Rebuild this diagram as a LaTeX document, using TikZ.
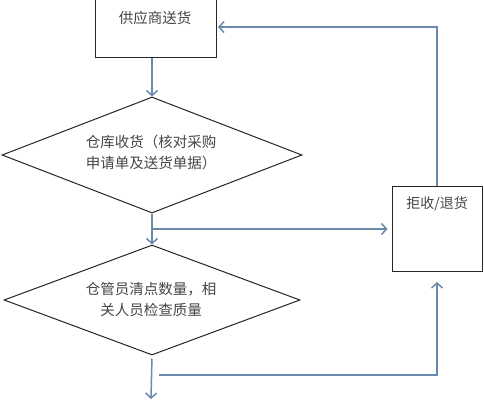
\documentclass[tikz,border=0pt]{standalone}
\usepackage{fontspec}
\newfontfamily\cjk{Noto Sans CJK SC}
\usetikzlibrary{shapes.geometric,positioning,arrows.meta}
\definecolor{flowline}{RGB}{105,138,170}
\definecolor{textgray}{RGB}{70,70,70}
\tikzset{
  box/.style={draw=black!85, line width=1pt, rectangle, inner sep=0pt},
  decision/.style={draw=black!85, line width=1pt, diamond, inner sep=0pt},
  flow/.style={draw=flowline, line width=1.5pt, -{Straight Barb[length=5pt,width=11pt]}},
  txt/.style={font=\cjk\fontsize{14.5}{21}\selectfont, text=textgray, inner sep=0pt}
}
\begin{document}
\begin{tikzpicture}[x=1pt,y=-1pt]
\clip (0,0) rectangle (484,400);
\fill[white] (0,0) rectangle (484,400);

\node[box, minimum width=121pt, minimum height=60pt] (supply) at (156,27) {};
\node[txt] (supplytext) at (155,18) {供应商送货};

\node[decision, minimum width=300pt, minimum height=116pt] (receive) at (152,155) {};
\node[txt, align=left] (receivetext) at (151,152) {仓库收货（核对采购\\申请单及送货单据）};

\node[decision, minimum width=296pt, minimum height=110pt] (check) at (152,300) {};
\node[txt, align=center] (checktext) at (151,299) {仓管员清点数量，相\\关人员检查质量};

\node[box, minimum width=90pt, minimum height=85pt] (reject) at (437,229) {};
\node[txt, font=\cjk\fontsize{14}{18}\selectfont] (rejecttext) at (437,204) {拒收/退货};

\coordinate (exit) at (151,399);
\coordinate (fork) at (159,375);

\draw[flow] (supply.south -| receive.north) -- (receive.north);
\draw[flow] (receive.south) -- (check.north);
\draw[flow, shorten >=4pt] (receive.south |- reject.west) -- (reject.west);
\draw[flow, shorten >=1pt] (reject.north) |- (supply.east);
\draw[flow, shorten <=3pt] (check.south) -- (exit);
\draw[flow, shorten >=10pt] (fork) -| (reject.south);
\end{tikzpicture}
\end{document}
